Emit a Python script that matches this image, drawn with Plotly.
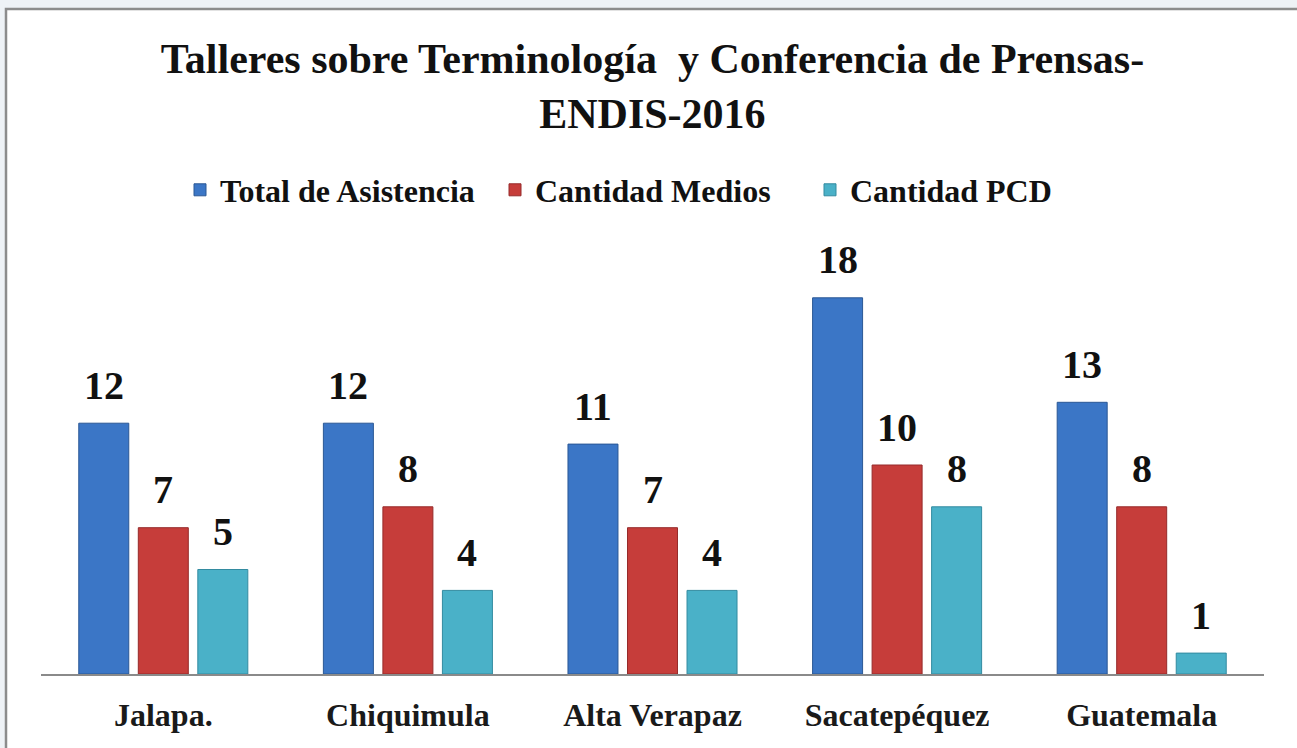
import plotly.graph_objects as go

categories = ["Jalapa.", "Chiquimula", "Alta Verapaz", "Sacatepéquez", "Guatemala"]
series_names = ["Total de Asistencia", "Cantidad Medios", "Cantidad PCD"]
total_asistencia = [12, 12, 11, 18, 13]
cantidad_medios = [7, 8, 7, 10, 8]
cantidad_pcd = [5, 4, 4, 8, 1]

series_values = [total_asistencia, cantidad_medios, cantidad_pcd]
colors = ["#3b76c6", "#c63d3a", "#4ab1c8"]
edge_colors = ["#2b5895", "#962b2a", "#338ba0"]
label_shift = [-59.5, 0, 59.5]

SERIF = "Liberation Serif, Times New Roman, serif"
W, H = 1297, 748
ML, MR, MT, MB = 41, 33, 256, 74

fig = go.Figure()
for name, vals, c, ec in zip(series_names, series_values, colors, edge_colors):
    fig.add_trace(go.Bar(
        x=categories, y=vals, name="<b>" + name + "</b>",
        marker=dict(color=c, line=dict(color=ec, width=1)),
        hoverinfo="x+y",
    ))

annotations = []
for vals, dx in zip(series_values, label_shift):
    for cat, v in zip(categories, vals):
        annotations.append(dict(
            x=cat, y=v, xref="x", yref="y", text="<b>%d</b>" % v, showarrow=False,
            xshift=dx, yshift=38, yanchor="middle", xanchor="center",
            font=dict(family=SERIF, size=40, color="#111111"),
        ))

pw = W - ML - MR
ph = H - MT - MB
shapes = [dict(
    type="rect", xref="paper", yref="paper", layer="below",
    x0=(6 - ML) / pw, x1=(W + 10 - ML) / pw,
    y0=-(MB + 20) / ph, y1=(H - MB - 9) / ph,
    fillcolor="white", line=dict(color="#8c8c8c", width=2.5),
)]

fig.update_layout(
    width=W, height=H,
    margin=dict(l=ML, r=MR, t=MT, b=MB),
    paper_bgcolor="#eef2f6", plot_bgcolor="rgba(0,0,0,0)",
    barmode="group", bargap=0.27, bargroupgap=0.16,
    title=dict(
        text="<b>Talleres sobre Terminología  y Conferencia de Prensas-<br>ENDIS-2016</b>",
        x=0.503, xanchor="center", y=1 - 73 / H, yanchor="top",
        font=dict(family=SERIF, size=42, color="#111111"),
    ),
    legend=dict(
        orientation="h", x=0.5, xanchor="center", y=(H - MB - 190) / ph, yanchor="middle",
        font=dict(family=SERIF, size=32, color="#111111"),
        itemwidth=30, entrywidth=270, entrywidthmode="pixels",
        traceorder="normal", bgcolor="rgba(0,0,0,0)",
    ),
    xaxis=dict(
        showline=True, linecolor="#8a8a8a", linewidth=2, ticks="", showgrid=False,
        tickmode="array", tickvals=categories,
        ticktext=["<b>" + c + "</b>" for c in categories],
        tickfont=dict(family=SERIF, size=32, color="#1a1a1a"),
        ticklabelstandoff=12, fixedrange=True,
    ),
    yaxis=dict(range=[0, 20], visible=False, fixedrange=True),
    annotations=annotations,
    shapes=shapes,
    showlegend=True,
)

fig.write_html("out.html", config={"displayModeBar": False},
               post_script="document.body.style.margin='0';")
